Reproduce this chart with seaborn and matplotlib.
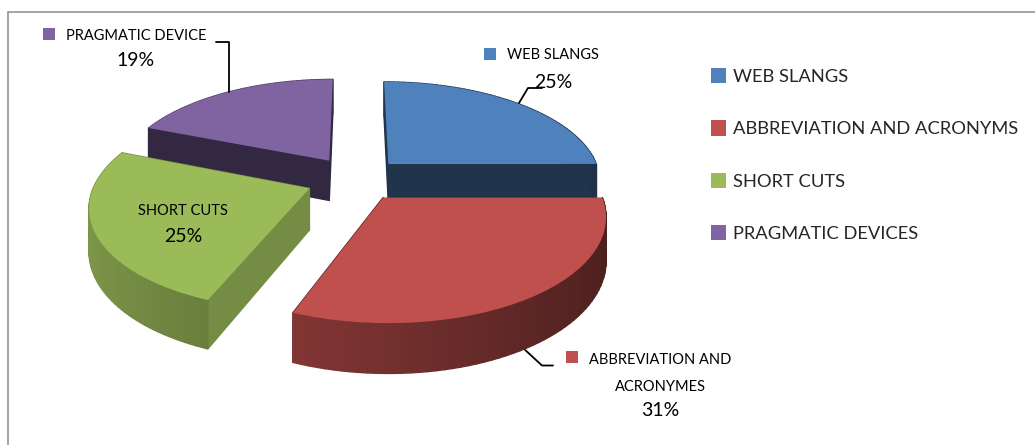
import numpy as np
import matplotlib
matplotlib.use("Agg")
import matplotlib.pyplot as plt
from matplotlib.patches import Polygon
from matplotlib.transforms import Transform
import seaborn as sns

sns.set_theme(style="white")
plt.rcParams['font.family'] = ['Lato', 'DejaVu Sans']

legend_names = ["WEB SLANGS", "ABBREVIATION AND ACRONYMS", "SHORT CUTS", "PRAGMATIC DEVICES"]
values = [25, 31, 25, 19]
colors = ["#4F81BD", "#C0504D", "#9BBB59", "#8064A2"]
explode = [0.22, 0.22, 0.235, 0.23]

CX, CY, A, B, K, DEPTH = 356, 179, 213, 99.3, 0.157, 41


def project(p, drop=0.0):
    p = np.atleast_2d(p)
    w = 1 + K * p[:, 1]
    return np.column_stack([CX + A * p[:, 0] / w, CY - B * p[:, 1] / w + drop / w])


class Persp(Transform):
    input_dims = output_dims = 2

    def transform_non_affine(self, values):
        return project(np.asarray(values))


def shade(c, f):
    return tuple(np.array(matplotlib.colors.to_rgb(c)) * f)


fig = plt.figure(figsize=(10.35, 4.45), dpi=100)
ax = fig.add_axes([0, 0, 1, 1])
wedges, _ = ax.pie(values, explode=explode, colors=colors, startangle=90,
                   counterclock=False, radius=1)
ax.set_aspect("auto")
ax.set_xlim(0, 1035)
ax.set_ylim(445, 0)
ax.axis("off")

radial_f = {0: 0.40, 1: 0.45, 2: 0.75, 3: 0.40}


def draw_solid(i, rank):
    wd = wedges[i]
    c = np.array(wd.center)
    th = np.radians(np.linspace(wd.theta1, wd.theta2, 60))
    arc = c + wd.r * np.column_stack([np.cos(th), np.sin(th)])
    quads = []
    for a0, a1, t in zip(arc[:-1], arc[1:], (th[:-1] + th[1:]) / 2):
        f = 0.60 - 0.21 * np.cos(t)
        quads.append((min(a0[1], a1[1]), [a0, a1], shade(colors[i], f)))
    for rim in (arc[0], arc[-1]):
        quads.append((min(rim[1], c[1]) + 0.3, [c, rim], shade(colors[i], radial_f[i])))
    quads.sort(key=lambda q: -q[0])
    for n, (_, (p0, p1), col) in enumerate(quads):
        pts = np.vstack([project(p0), project(p1), project(p1, DEPTH), project(p0, DEPTH)])
        ax.add_patch(Polygon(pts, closed=True, fc=col, ec=col, lw=1.0, joinstyle="round",
                             zorder=2 + rank + n * 1e-3))
    wd.set_transform(Persp() + ax.transData)
    wd.set_zorder(2.5 + rank)
    wd.set_edgecolor("none")


# back to front: purple, blue, green, red
for rank, i in enumerate([3, 0, 2, 1]):
    draw_solid(i, rank)

# frame lines of the pasted picture
ax.plot([8, 1035], [11.5, 11.5], color="#8c8c8c", lw=1.1, zorder=1)
ax.plot([8, 8], [11.5, 445], color="#8c8c8c", lw=1.1, zorder=1)

# leader lines
ax.plot([216, 229, 229], [41.5, 41.5, 92], color="black", lw=1.3, zorder=10)
ax.plot([519, 528, 542], [103, 88, 88], color="black", lw=1.3, zorder=10)
ax.plot([523, 542, 553], [348, 365.5, 365.5], color="black", lw=1.3, zorder=1.5)

# data labels
lab = dict(fontsize=10.5, color="black", ha="center", va="center", zorder=11)
pct = dict(fontsize=14, color="black", ha="center", va="center", zorder=11)
ax.text(136, 36, "PRAGMATIC DEVICE", **lab)
ax.text(136, 61, f"{values[3]}%", **pct)
ax.text(553, 55, "WEB SLANGS", **lab)
ax.text(553, 82, f"{values[0]}%", **pct)
ax.text(183, 211, "SHORT CUTS", **lab)
ax.text(183, 236, f"{values[2]}%", **pct)
ax.text(660, 360, "ABBREVIATION AND", **lab)
ax.text(660, 387, "ACRONYMES", **lab)
ax.text(660, 411, f"{values[1]}%", **pct)
ax.scatter([49, 490, 572, 122], [34, 54, 357, 208], s=72, marker="s",
           color=[colors[3], colors[0], colors[1], colors[2]], zorder=11, linewidths=0)

leg = ax.legend(wedges, legend_names, loc="upper left", bbox_to_anchor=(711 / 1035, 1 - 68 / 445),
                frameon=False, fontsize=13.2, labelspacing=1.93, handlelength=0.82, handleheight=0.9,
                handletextpad=0.38, borderpad=0, borderaxespad=0)
fig.savefig("out.png", dpi=100)
